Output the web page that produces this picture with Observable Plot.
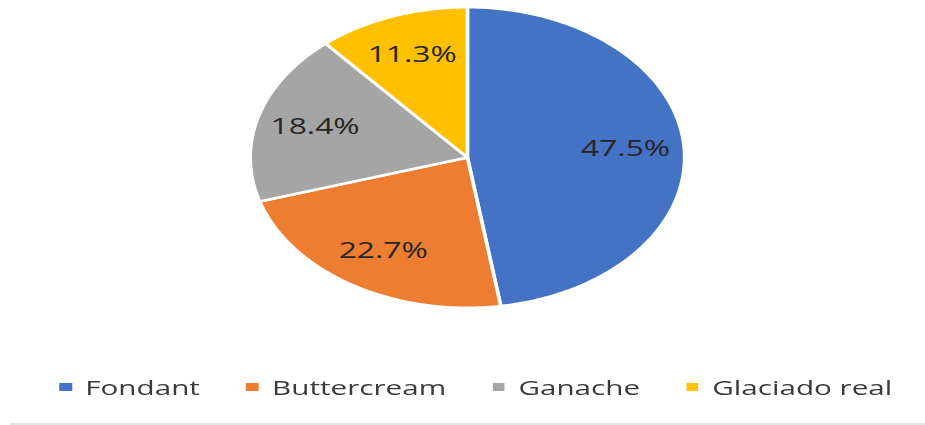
<!DOCTYPE html>
<html>
<head>
<meta charset="utf-8">
<script src="https://cdn.jsdelivr.net/npm/d3@7"></script>
<script src="https://cdn.jsdelivr.net/npm/@observablehq/plot@0.6"></script>
<style>
  html, body { margin: 0; padding: 0; background: #fff; overflow: hidden; }
  #wrap { width: 640px; transform: scaleX(1.4453); transform-origin: 0 0; font-family: "Open Sans", sans-serif; }
  #legend { display: flex; align-items: center; height: 24px; margin-top: 35px; padding-left: 41px; }
  .item { display: flex; align-items: center; margin-right: 32px; }
  .sw { width: 8.6px; height: 8.6px; margin-right: 9.4px; }
  .lab { font-size: 20.5px; color: #3a3a3a; line-height: 24px; white-space: nowrap; }
  #rule { margin-top: 24px; margin-left: 7px; height: 1.5px; background: #e3e3e3; }
</style>
</head>
<body>
<div id="wrap"></div>
<script>
const categories = ["Fondant", "Buttercream", "Ganache", "Glaciado real"];
const values = [47.5, 22.7, 18.4, 11.3];
const colors = ["#4472C4", "#ED7D31", "#A5A5A5", "#FFC000"];

const arcs = d3.pie().sort(null).value(d => d)(values);

// polygon outline of each slice in unit coordinates
const points = [];
arcs.forEach((a, i) => {
  const name = categories[i];
  points.push({name, x: 0, y: 0});
  const n = Math.max(2, Math.ceil((a.endAngle - a.startAngle) / (Math.PI / 180)));
  for (let k = 0; k <= n; k++) {
    const t = a.startAngle + (a.endAngle - a.startAngle) * k / n;
    points.push({name, x: Math.sin(t), y: Math.cos(t)});
  }
});

const f = 0.73;
const labels = arcs.map((a, i) => {
  const m = (a.startAngle + a.endAngle) / 2;
  return {name: categories[i], x: f * Math.sin(m), y: f * Math.cos(m), text: values[i].toFixed(1) + "%"};
});

const chart = Plot.plot({
  width: 640,
  height: 340,
  marginLeft: 172.6,
  marginRight: 166.8,
  marginTop: 6.7,
  marginBottom: 32.7,
  x: {domain: [-1, 1], axis: null},
  y: {domain: [-1, 1], axis: null},
  color: {domain: categories, range: colors},
  style: {background: "white", overflow: "visible"},
  marks: [
    Plot.line(points, {x: "x", y: "y", z: "name", fill: "name", stroke: "white", strokeWidth: 2.5, strokeLinejoin: "round", curve: "linear-closed"}),
    Plot.text(labels, {x: "x", y: "y", text: "text", fill: "#262626", fontSize: 22, fontFamily: "Open Sans"})
  ]
});

const wrap = document.getElementById("wrap");
wrap.appendChild(chart);

const legend = document.createElement("div");
legend.id = "legend";
categories.forEach((c, i) => {
  const it = document.createElement("div");
  it.className = "item";
  const sw = document.createElement("div");
  sw.className = "sw";
  sw.style.background = colors[i];
  const lab = document.createElement("span");
  lab.className = "lab";
  lab.textContent = c;
  it.appendChild(sw);
  it.appendChild(lab);
  legend.appendChild(it);
});
wrap.appendChild(legend);

const rule = document.createElement("div");
rule.id = "rule";
wrap.appendChild(rule);
</script>
</body>
</html>
